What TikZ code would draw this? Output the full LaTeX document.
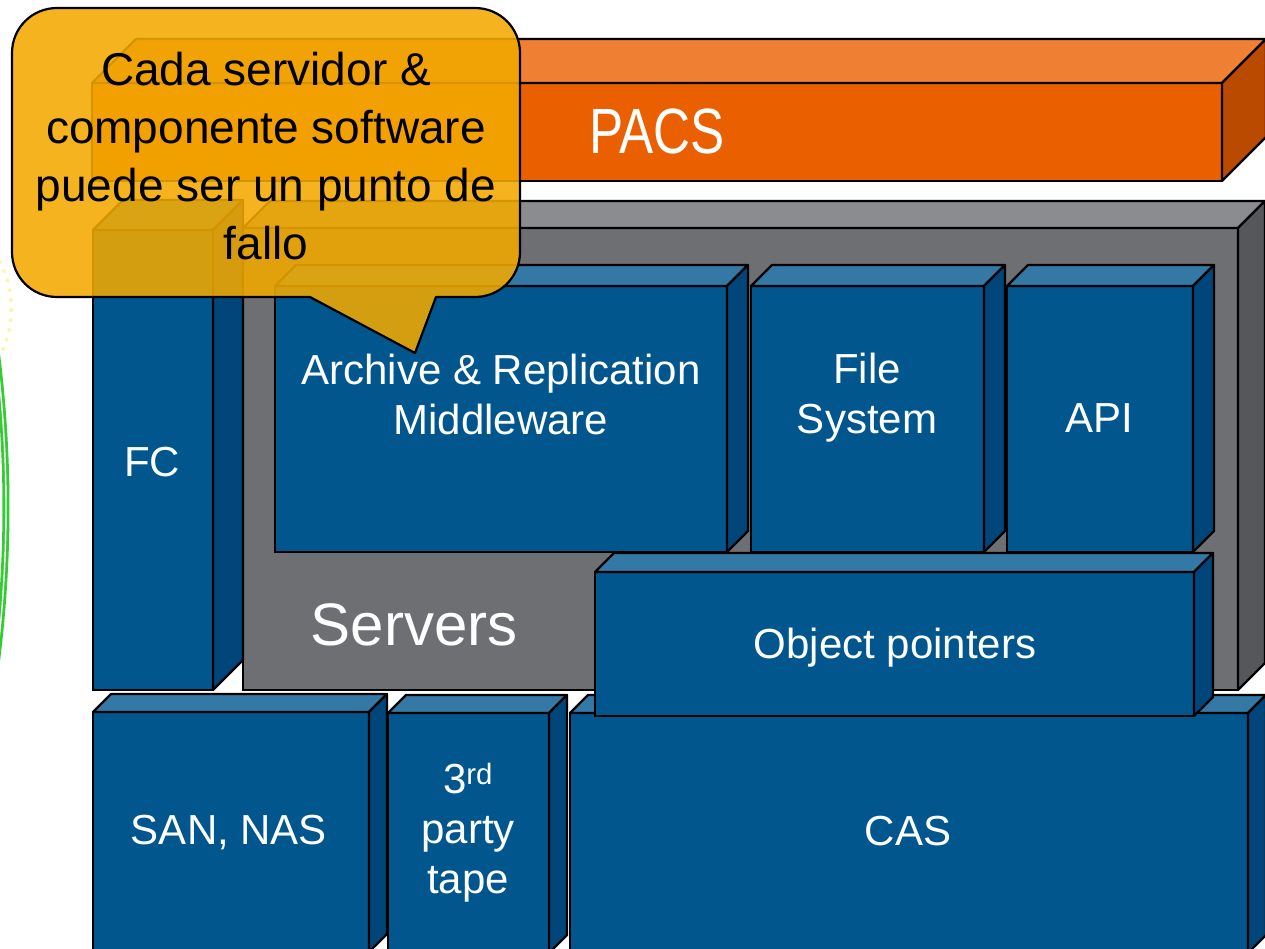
\documentclass[tikz,border=0pt]{standalone}
\usepackage{fontspec}
\setmainfont{Liberation Sans}
\newfontfamily\narrowfont[FakeStretch=0.8]{Liberation Sans}

\definecolor{blueF}{HTML}{02568E}
\definecolor{blueT}{HTML}{3478A5}
\definecolor{blueS}{HTML}{00467A}
\definecolor{grayF}{HTML}{6E6F73}
\definecolor{grayT}{HTML}{8B8C90}
\definecolor{grayS}{HTML}{56575B}
\definecolor{orangeF}{HTML}{EA5F00}
\definecolor{orangeT}{HTML}{EF7F33}
\definecolor{orangeS}{HTML}{B94A00}
\definecolor{calloutfill}{HTML}{F2A900}
\definecolor{arcgreen}{HTML}{33CC33}
\definecolor{paleyellow}{HTML}{FFF5A8}

\tikzset{
  face/.style={draw=black, line width=2.2pt, anchor=north west, inner sep=0pt, outer sep=0pt},
  edge/.style={draw=black, line width=2.2pt, line join=round},
  lbl/.style={text=white, font=\fontsize{42}{50}\selectfont, align=center, inner sep=0pt},
}

% a block with its front face, top face and right side face
% #1 name, #2/#3 front top-left corner, #4 width, #5 height, #6 depth, #7 palette
\newcommand{\cubeblock}[7]{%
  \node[face, fill=#7F, minimum width=#4pt, minimum height=#5pt] (#1) at (#2,#3) {};
  \filldraw[edge, fill=#7T] (#1.north west) -- ++(#6,-#6)
     -- ([shift={(#6,-#6)}]#1.north east) -- (#1.north east) -- cycle;
  \filldraw[edge, fill=#7S] (#1.north east) -- ++(#6,-#6)
     -- ([shift={(#6,-#6)}]#1.south east) -- (#1.south east) -- cycle;
}

\begin{document}
\begin{tikzpicture}[x=1pt, y=-1pt]
\useasboundingbox (0,0) rectangle (1265,948);
\clip (0,0) rectangle (1265,948);

% curves at the left margin
\draw[paleyellow, line width=4pt, line cap=round, dash pattern=on 0pt off 10pt]
  (0,262) .. controls (15,290) and (15,326) .. (0,356);
\draw[draw=arcgreen, double=white, line width=2.8pt, double distance=1.4pt]
  (-6,335) .. controls (10,450) and (10,565) .. (-6,680);

% PACS layer
\cubeblock{pacs}{92}{83}{1130}{98}{44}{orange}
\node[text=white, font=\narrowfont\fontsize{64}{64}\selectfont, inner sep=0pt] (pacslabel) at (657,131) {PACS};

% servers layer
\cubeblock{servers}{243}{228}{995}{462}{27}{gray}
\node[text=white, font=\fontsize{60}{60}\selectfont, inner sep=0pt] (serverslabel) at (414,625) {Servers};

% fibre channel
\cubeblock{fc}{93}{230}{120}{460}{30}{blue}
\node[lbl] (fclabel) at (152,462) {FC};

% software on the servers
\cubeblock{archive}{275}{286}{452}{266}{21}{blue}
\node[lbl] (archivelabel) at (501,394) {Archive \& Replication\\Middleware};
\cubeblock{filesys}{751}{286}{233}{266}{21}{blue}
\node[lbl] (filesyslabel) at (867,398) {File\\System};
\cubeblock{api}{1007}{286}{186}{266}{21}{blue}
\node[lbl] (apilabel) at (1099,418) {API};

% storage layer
\cubeblock{sannas}{93}{712}{276}{240}{18}{blue}
\node[lbl] (sannaslabel) at (229,833) {SAN, NAS};
\cubeblock{tape}{388}{713}{161}{240}{18}{blue}
\node[lbl] (tapelabel) at (468,833) {3\textsuperscript{rd}\\party\\tape};
\cubeblock{cas}{570}{713}{678}{240}{18}{blue}
\node[lbl] (caslabel) at (908,831) {CAS};

% object pointers in front
\cubeblock{objptr}{595}{572}{599}{144}{19}{blue}
\node[lbl] (objptrlabel) at (895,648) {Object pointers};

% speech bubble
\filldraw[draw=black, line width=2.2pt, fill=calloutfill, fill opacity=0.88, line join=round]
  (310,297) -- (415,353) -- (436,297) -- (475,297)
  .. controls (500,297) and (520,277) .. (520,252) -- (520,53)
  .. controls (520,28) and (500,8) .. (475,8) -- (57,8)
  .. controls (32,8) and (12,28) .. (12,53) -- (12,252)
  .. controls (12,277) and (32,297) .. (57,297) -- cycle;
\node[text=black, font=\fontsize{46}{58}\selectfont, align=center, inner sep=0pt] (bubbletext) at (266,156)
  {Cada servidor \&\\componente software\\puede ser un punto de\\fallo};
\end{tikzpicture}
\end{document}
